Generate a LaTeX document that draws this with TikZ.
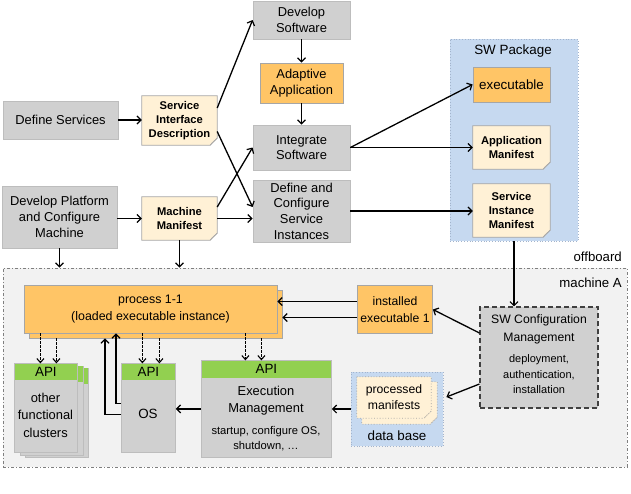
\documentclass[tikz,border=0pt]{standalone}
\usepackage{fontspec}
\setmainfont{Liberation Sans}
\usetikzlibrary{arrows.meta,calc}
\definecolor{boxgray}{HTML}{D0D0D0}
\definecolor{bordgray}{HTML}{BDBDBD}
\definecolor{orfill}{HTML}{FFC566}
\definecolor{orbord}{HTML}{A6A6A6}
\definecolor{cream}{HTML}{FFF1D6}
\definecolor{creambord}{HTML}{A6A6A6}
\definecolor{foldc}{HTML}{D9CDB8}
\definecolor{pkgblue}{HTML}{C6D9F0}
\definecolor{pkgbord}{HTML}{A3B4CC}
\definecolor{apigreen}{HTML}{92D050}
\definecolor{machfill}{HTML}{F2F2F2}
\definecolor{machbord}{HTML}{7F7F7F}
\definecolor{swcbord}{HTML}{404040}
\pgfdeclarelayer{back}
\pgfdeclarelayer{notebg}
\pgfsetlayers{back,notebg,main}
\newcommand{\notedraw}[2][]{%
  \filldraw[fill=cream, draw=creambord, line width=0.8pt, #1] (#2.north west) -- (#2.north east) -- ([yshift=7pt]#2.south east) -- ([xshift=-7pt]#2.south east) -- (#2.south west) -- cycle;
  \filldraw[fill=foldc, draw=creambord, line width=0.6pt, #1] ([yshift=7pt]#2.south east) -- ([xshift=-5pt,yshift=2.5pt]#2.south east) -- ([xshift=-7pt]#2.south east);
}
\begin{document}
\begin{tikzpicture}[x=1pt,y=-1pt,
  base/.style={inner sep=0pt, align=center, font=\fontsize{13.4}{16}\selectfont},
  graybox/.style={base, draw=bordgray, fill=boxgray, line width=0.8pt},
  topbox/.style={graybox, font=\fontsize{12.9}{15.7}\selectfont},
  orbox/.style={base, draw=orbord, fill=orfill, line width=0.8pt},
  note/.style={base, font=\bfseries\fontsize{11.2}{13.6}\selectfont},
  small/.style={base, font=\fontsize{11}{15.5}\selectfont},
  txt/.style={base},
  pkg/.style={inner sep=0pt, fill=pkgblue, draw=pkgbord, dotted, line width=0.8pt},
  apihead/.style={base, fill=apigreen, anchor=north},
  swcbox/.style={inner sep=0pt, fill=boxgray, draw=swcbord, line width=1.1pt, dash pattern=on 5pt off 3pt},
  machine/.style={inner sep=0pt, fill=machfill, draw=machbord, line width=0.8pt, dash pattern=on 3pt off 2pt on 1pt off 2pt},
  arr/.style={-{Straight Barb[length=4pt,width=8pt,line width=1.2pt]}, line width=1.3pt, black},
  darr/.style={-{Straight Barb[length=4pt,width=7pt,line width=1.1pt]}, line width=1.1pt, dash pattern=on 2.5pt off 1.5pt, black}
]
\useasboundingbox (0,0) rectangle (631,493);

% ---------- offboard ----------
\node[topbox, minimum width=115, minimum height=38] (ds) at (60.5,120) {Define Services};
\node[note, minimum width=75, minimum height=49] (sid) at (179.5,120.5) {Service\\Interface\\Description};
\node[topbox, minimum width=97, minimum height=38] (dsw) at (301.5,20) {Develop\\Software};
\node[orbox, font=\fontsize{12.9}{15.7}\selectfont, minimum width=83, minimum height=40] (aa) at (301.5,83) {Adaptive\\Application};
\node[topbox, minimum width=97, minimum height=45] (is) at (301.5,147.5) {Integrate\\Software};
\node[topbox, minimum width=97, minimum height=62] (dc) at (301.5,211) {Define and\\Configure\\Service\\Instances};
\node[topbox, minimum width=115, minimum height=62] (dp) at (59.5,217) {Develop Platform\\and Configure\\Machine};
\node[note, minimum width=75, minimum height=43] (mm) at (179.5,218.5) {Machine\\Manifest};

\begin{pgfonlayer}{back}
\node[pkg, minimum width=128, minimum height=202] (swp) at (514,140) {};
\end{pgfonlayer}
\node[txt] (swpt) at (513,51) {SW Package};
\node[orbox, minimum width=77, minimum height=35] (exe) at (511.5,84.5) {executable};
\node[note, minimum width=77, minimum height=43] (am) at (511.5,147.5) {Application\\Manifest};
\node[note, minimum width=77, minimum height=53] (sim) at (511.5,210.5) {Service\\Instance\\Manifest};

\begin{pgfonlayer}{notebg}
\notedraw{sid}
\notedraw{mm}
\notedraw{am}
\notedraw{sim}
\end{pgfonlayer}

\node[txt, anchor=east, font=\fontsize{13.2}{16}\selectfont] (offt) at (622,257) {offboard};

% ---------- machine A ----------
\begin{pgfonlayer}{back}
\node[machine, minimum width=624, minimum height=199] (mach) at (315,367.5) {};
\node[pkg, minimum width=92, minimum height=74] (db) at (397,409) {};
\end{pgfonlayer}
\node[txt, anchor=east, font=\fontsize{13.2}{16}\selectfont] (macht) at (622,283) {machine A};

\node[orbox, minimum width=253, minimum height=48] (procb) at (155.5,314) {};
\node[orbox, font=\fontsize{12.4}{17}\selectfont, minimum width=253, minimum height=48] (proc) at (150.5,309) {process 1-1\\(loaded executable instance)};

\node[orbox, font=\fontsize{12.2}{17}\selectfont, minimum width=75, minimum height=48] (ie) at (395,309.5) {installed\\executable 1};

\node[swcbox, minimum width=118, minimum height=101] (swc) at (539,357.5) {};
\node[txt, font=\fontsize{12.2}{18}\selectfont] (swct) at (539,329) {SW Configuration\\Management};
\node[small] (swcs) at (539,374.5) {deployment,\\authentication,\\installation};

% processed manifests (stacked notes)
\node[base, minimum width=75, minimum height=42] (pmb) at (399.5,403) {};
\node[base, font=\fontsize{12.2}{16}\selectfont, minimum width=74, minimum height=41] (pm) at (394,397.5) {processed\\manifests};
\begin{pgfonlayer}{notebg}
\notedraw[dotted]{pmb}
\notedraw[dotted]{pm}
\end{pgfonlayer}
\node[txt] (dbt) at (397,436) {data base};

% other functional clusters (stacked)
\foreach \d/\e in {11/5, 6/3}{
  \filldraw[fill=boxgray, draw=bordgray, line width=0.8pt] (14+\d,363+\e) rectangle (77+\d,452+\e);
  \fill[apigreen] (14.4+\d,363.4+\e) rectangle (76.6+\d,379+\e);
}
\node[graybox, minimum width=63, minimum height=89, anchor=north west] (ofc) at (14,363) {};
\node[apihead, minimum width=62.2, minimum height=16] (ofcapi) at ([yshift=-0.4pt]ofc.north) {API};
\node[txt, font=\fontsize{12.9}{17.5}\selectfont] (ofct) at (45.5,415) {other\\functional\\clusters};

\node[graybox, minimum width=54, minimum height=89, anchor=north west] (os) at (121,363) {};
\node[apihead, minimum width=53.2, minimum height=16] (osapi) at ([yshift=-0.4pt]os.north) {API};
\node[txt] (ost) at (148,414) {OS};

\node[graybox, minimum width=130, minimum height=97, anchor=north west] (em) at (201,360) {};
\node[apihead, minimum width=129.2, minimum height=17] (emapi) at ([yshift=-0.4pt]em.north) {API};
\node[txt, font=\fontsize{12.9}{17}\selectfont] (emt) at (266,400.5) {Execution\\Management};
\node[small, font=\fontsize{11.2}{15}\selectfont] (ems) at (266,438.5) {startup, configure OS,\\shutdown, …};

% ---------- connectors ----------
\draw[arr] (ds.east) -- (ds.east -| sid.west);
\draw[arr] (dp.east |- mm.west) -- (mm.west);
\draw[arr] ([yshift=12.5pt]sid.east) -- (dsw.west);
\draw[arr] ([yshift=-11pt]sid.east) -- ([yshift=4pt]dc.west);
\draw[arr] ([yshift=11.5pt]mm.east) -- (is.west);
\draw[arr] (mm.east) -- (mm.east -| dc.west);
\draw[arr] (dsw) -- (aa);
\draw[arr] (aa) -- (is);
\draw[arr] (is.east) -- (exe.west);
\draw[arr] (is.east) -- (is.east -| am.west);
\draw[arr] (dc.east) -- (dc.east -| sim.west);
\draw[arr] (dp.south) -- (dp.south |- mach.north);
\draw[arr] (mm.south) -- (mm.south |- mach.north);
\draw[arr] (swp.south) -- (swp.south |- swc.north);
\draw[arr] ([yshift=24.5pt]swc.west) -- (ie.east);
\draw[arr] ([yshift=-26.5pt]swc.west) -- ([xshift=3pt,yshift=12pt]db.east);
\draw[arr] ([yshift=8pt]ie.west) -- ([yshift=8pt]ie.west -| proc.east);
\draw[arr] ([yshift=-8pt]ie.west) -- ([yshift=-8pt]ie.west -| procb.east);
\draw[arr] (db.west) -- (db.west -| em.east);
\draw[arr] (em.west) -- (em.west -| os.east);
\draw[arr] ([yshift=4.5pt]os.west) -| ($(os.west |- proc.south)+(-5,0)$);
\draw[arr] ([yshift=-6.5pt]os.west) -| ($(os.west |- procb.south)+(-16,0)$);
\foreach \n/\dx/\src in {ofcapi/-5.5/proc, ofcapi/10.5/procb, osapi/-6/proc, osapi/11/procb, emapi/-21/proc, emapi/-5/procb}{
  \coordinate (t) at ($(\n.north)+(\dx,0)$);
  \draw[darr] (t |- \src.south) -- (t);
}
\end{tikzpicture}
\end{document}
